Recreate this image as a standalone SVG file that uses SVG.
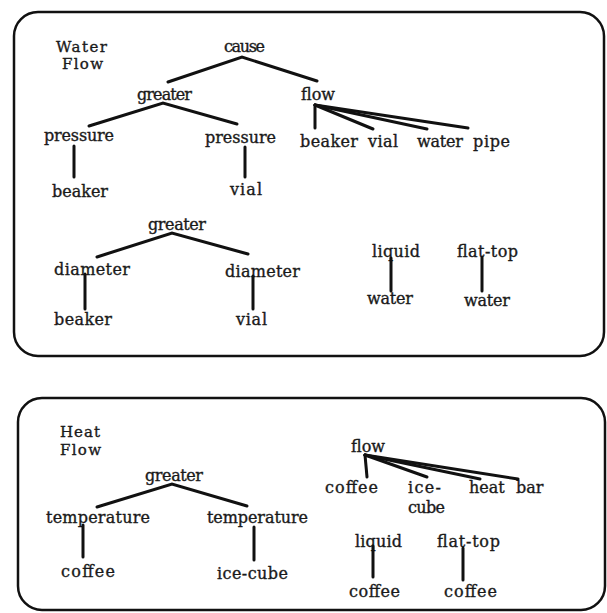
<svg xmlns="http://www.w3.org/2000/svg" width="607" height="613" viewBox="0 0 607 613">
<style>
text{font-family:"DejaVu Serif","Liberation Serif",serif;font-size:16px;fill:#1a1a1a;stroke:#1a1a1a;stroke-width:0.35}
.t{font-size:15px}
.box{fill:none;stroke:#111;stroke-width:2.5}
.e{stroke:#111;stroke-width:3;stroke-linecap:round;fill:none}
</style>
<rect width="607" height="613" fill="#fff"/>
<g id="frame-water"><rect class="box" x="14" y="12" width="590" height="344" rx="24"/></g>
<g id="frame-heat"><rect class="box" x="18" y="398" width="587" height="212" rx="24"/></g>
<g id="title-water"><text class="t" x="56" y="52" textLength="51">Water</text><text class="t" x="62" y="69" textLength="41">Flow</text></g>
<g id="title-heat"><text class="t" x="60" y="437" textLength="40">Heat</text><text class="t" x="60" y="455" textLength="41">Flow</text></g>
<g id="n-cause"><text x="224" y="52" textLength="41">cause</text></g>
<g id="n-greater1"><text x="137" y="100" textLength="55">greater</text></g>
<g id="n-flow1"><text x="301" y="100" font-size="17">flow</text></g>
<g id="n-pressure1"><text x="44" y="141" textLength="70">pressure</text></g>
<g id="n-pressure2"><text x="205" y="143" textLength="71">pressure</text></g>
<g id="n-beaker1"><text x="52" y="197" textLength="56">beaker</text></g>
<g id="n-vial1"><text x="230" y="195" textLength="32">vial</text></g>
<g id="n-beaker2"><text x="300" y="147" textLength="58">beaker</text></g>
<g id="n-vial2"><text x="368" y="147" textLength="30">vial</text></g>
<g id="n-water1"><text x="417" y="147" textLength="46">water</text></g>
<g id="n-pipe"><text x="473" y="147" textLength="37">pipe</text></g>
<g id="n-greater2"><text x="148" y="230" textLength="58">greater</text></g>
<g id="n-diameter1"><text x="54" y="275" textLength="76">diameter</text></g>
<g id="n-diameter2"><text x="225" y="277" textLength="75">diameter</text></g>
<g id="n-beaker3"><text x="54" y="325" textLength="58">beaker</text></g>
<g id="n-vial3"><text x="236" y="325" textLength="31">vial</text></g>
<g id="n-liquid1"><text x="372" y="257" textLength="48">liquid</text></g>
<g id="n-water2"><text x="367" y="304" textLength="46">water</text></g>
<g id="n-flattop1"><text x="457" y="257" textLength="61">flat-top</text></g>
<g id="n-water3"><text x="464" y="306" textLength="46">water</text></g>
<g id="n-greater3"><text x="145" y="481" textLength="58">greater</text></g>
<g id="n-temp1"><text x="46" y="523" textLength="104">temperature</text></g>
<g id="n-temp2"><text x="207" y="523" textLength="101">temperature</text></g>
<g id="n-coffee1"><text x="61" y="577" textLength="54">coffee</text></g>
<g id="n-icecube1"><text x="217" y="579" textLength="71">ice-cube</text></g>
<g id="n-flow2"><text x="351" y="452" font-size="17">flow</text></g>
<g id="n-coffee2"><text x="325" y="493" textLength="53">coffee</text></g>
<g id="n-icecube2"><text x="408" y="493" textLength="33">ice-</text><text x="408" y="513" textLength="37">cube</text></g>
<g id="n-heat"><text x="469" y="493">heat</text></g>
<g id="n-bar"><text x="516" y="493">bar</text></g>
<g id="n-liquid2"><text x="355" y="547" textLength="47">liquid</text></g>
<g id="n-coffee3"><text x="349" y="597" textLength="51">coffee</text></g>
<g id="n-flattop2"><text x="437" y="547" textLength="63">flat-top</text></g>
<g id="n-coffee4"><text x="444" y="597" textLength="53">coffee</text></g>
<g id="connectors" class="e">
<polyline points="168,82 242,57 317,81"/>
<polyline points="89,126 163,103 237,124"/>
<line x1="74" y1="146" x2="74" y2="177"/>
<line x1="245" y1="147" x2="245" y2="177"/>
<line x1="315" y1="105" x2="315" y2="128"/>
<line x1="315" y1="105" x2="373" y2="129"/>
<line x1="315" y1="105" x2="427" y2="129"/>
<line x1="315" y1="105" x2="468" y2="128"/>
<polyline points="97,257 172,233 248,254"/>
<line x1="85" y1="274" x2="85" y2="309"/>
<line x1="253" y1="276" x2="253" y2="309"/>
<line x1="391" y1="258" x2="391" y2="291"/>
<line x1="482" y1="257" x2="482" y2="291"/>
<polyline points="97,507 172,484 247,506"/>
<line x1="83" y1="525" x2="83" y2="557"/>
<line x1="254" y1="527" x2="254" y2="560"/>
<line x1="365" y1="455" x2="367" y2="477"/>
<line x1="365" y1="455" x2="427" y2="477"/>
<line x1="365" y1="455" x2="480" y2="479"/>
<line x1="365" y1="455" x2="518" y2="479"/>
<line x1="373" y1="546" x2="373" y2="577"/>
<line x1="463" y1="548" x2="463" y2="580"/>
</g>
</svg>
